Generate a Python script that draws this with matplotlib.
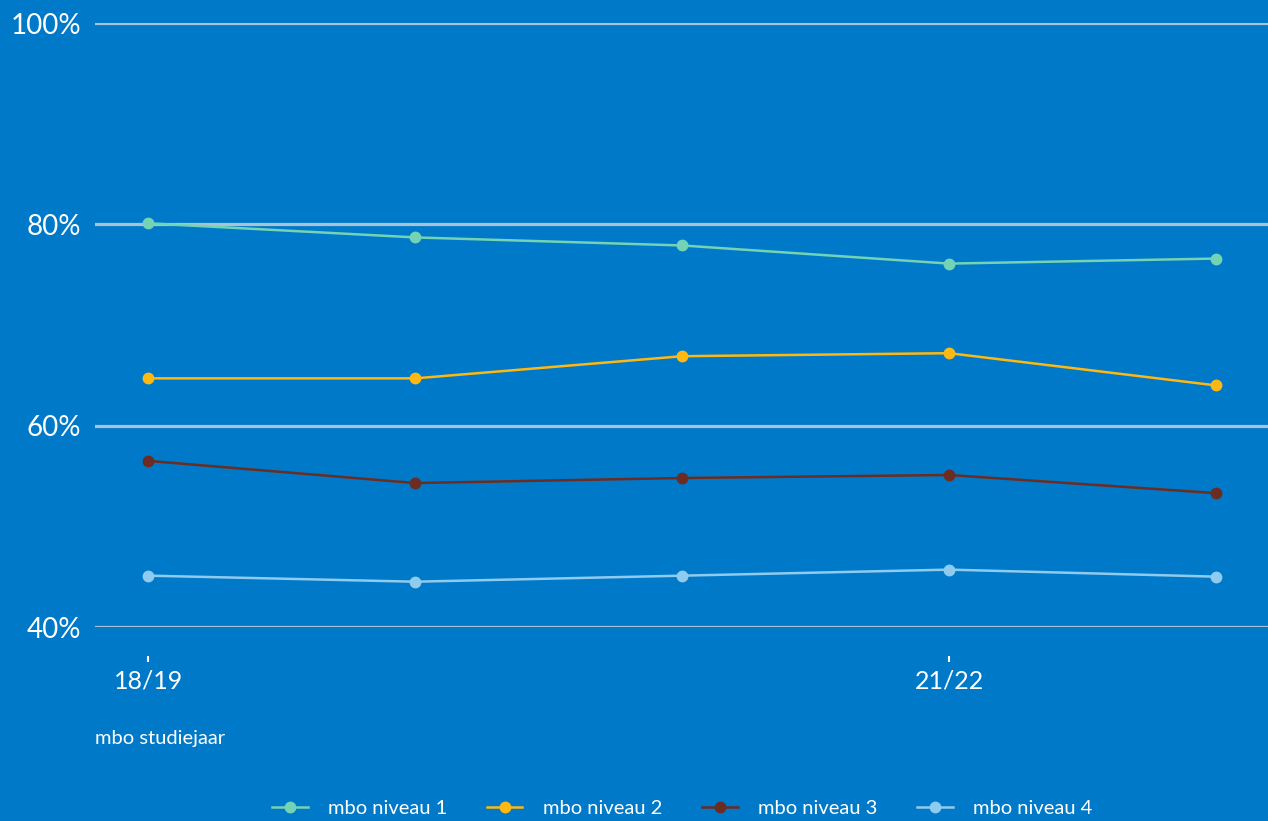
import matplotlib
matplotlib.use("Agg")
import matplotlib.pyplot as plt

years = ["18/19", "19/20", "20/21", "21/22", "22/23"]
shown_labels = ["18/19", "", "", "21/22", ""]
niveau1 = [80.1, 78.7, 77.9, 76.1, 76.6]
niveau2 = [64.7, 64.7, 66.9, 67.2, 64.0]
niveau3 = [56.5, 54.3, 54.8, 55.1, 53.3]
niveau4 = [45.1, 44.5, 45.1, 45.7, 45.0]
series_names = ["mbo niveau 1", "mbo niveau 2", "mbo niveau 3", "mbo niveau 4"]
colors = ["#72D3B5", "#FDB813", "#6B2D22", "#8ECBEE"]
yticks = [40, 60, 80, 100]

bg = "#0079C8"
plt.rcParams['font.family'] = ['Lato', 'DejaVu Sans']

fig = plt.figure(figsize=(12.68, 8.21), dpi=100, facecolor=bg)
ax = fig.add_axes([95/1268, 1-627/821, 1-95/1268, (627-23)/821], facecolor=bg)

x = list(range(len(years)))
for vals, name, c in zip([niveau1, niveau2, niveau3, niveau4], series_names, colors):
    ax.plot(x, vals, color=c, lw=1.8, marker='o', markersize=7.5, label=name, zorder=3, clip_on=False)

ax.set_xlim(-0.2, 4.195)
ax.set_ylim(40, 100)
ax.set_yticks(yticks)
ax.set_yticklabels([f"{v}%" for v in yticks])
ax.yaxis.grid(True, color="#A8C2D8", lw=2.3)
ax.set_axisbelow(True)
for s in ax.spines.values():
    s.set_visible(False)
ax.spines['bottom'].set_position(('outward', 21))
ax.set_xticks(x)
ax.set_xticklabels(shown_labels)
for t, lab in zip(ax.xaxis.get_major_ticks(), shown_labels):
    if not lab:
        t.tick1line.set_visible(False)
ax.tick_params(axis='x', colors='white', length=4.3, width=1.5, pad=5, labelsize=18, direction='out')
ax.tick_params(axis='y', colors='white', length=0, pad=10, labelsize=20)

fig.text(95/1268, 1-738/821, "mbo studiejaar", color='white', fontsize=14.5, va='center', ha='left')

leg = fig.legend(loc='center', bbox_to_anchor=(0.538, 1-808/821), ncol=4, frameon=False,
                 fontsize=14.5, labelcolor='white', handlelength=1.75, columnspacing=2.0, handletextpad=1.0)

fig.savefig("out.png", dpi=100, facecolor=bg)
